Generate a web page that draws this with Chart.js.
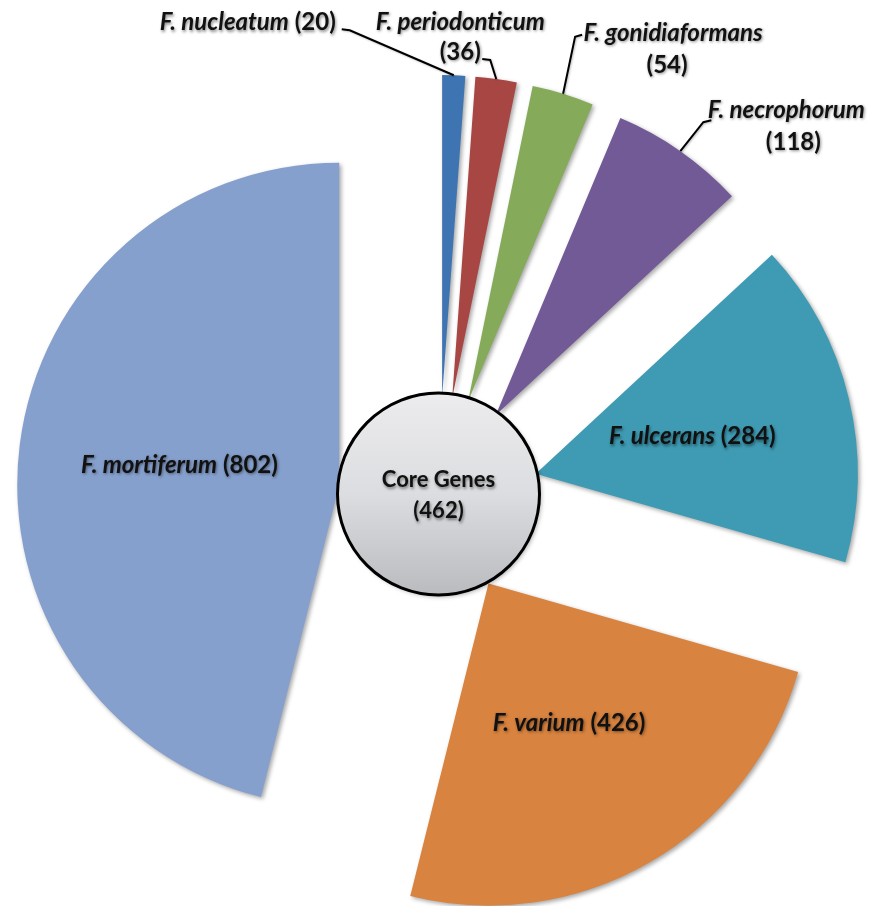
<!DOCTYPE html>
<html>
<head>
<meta charset="utf-8">
<script src="https://cdn.jsdelivr.net/npm/chart.js@4.4.1/dist/chart.umd.min.js"></script>
<style>
  html, body { margin: 0; padding: 0; background: #fff; }
</style>
</head>
<body>
<canvas id="pie" width="877" height="906"></canvas>
<script>
// data
const species = ['F. nucleatum', 'F. periodonticum', 'F. gonidiaformans', 'F. necrophorum', 'F. ulcerans', 'F. varium', 'F. mortiferum'];
const geneCounts = [20, 36, 54, 118, 284, 426, 802];
const coreName = 'Core Genes';
const coreGenes = 462;

const sliceColors = ['#3f74b2', '#a84644', '#84aa5a', '#725a96', '#3e9bb3', '#d8833f', '#86a0cd'];

const pieRadius = 322;
const explode = 100;      // every slice pulled out by the same amount
const coreRadius = 101;
const FONT = 'Lato, "Open Sans", sans-serif';

// outside labels: text/leader positions relative to the outer mid point of the slice
// lines: [dx, dy, align, what], leader: [elbow, end]
const outsideLabels = {
  0: { lines: [[-118, -53, 'right', 'both']], leader: [[-104, -45], [-112, -46]] },
  1: { lines: [[-36, -57, 'center', 'name'], [-36, -27, 'center', 'num']], leader: [[-6, -19], [-14, -20]] },
  2: { lines: [[110, -61, 'center', 'name'], [104, -29, 'center', 'num']], leader: [[12, -57], [19, -59]] },
  3: { lines: [[106, -41, 'center', 'name'], [113, -9, 'center', 'num']], leader: [[23, -29], [31, -31]] }
};

function fontFor(italic, size) {
  return (italic ? 'italic ' : '') + 'bold ' + (size || 24) + 'px ' + FONT;
}

function drawParts(ctx, parts, x, y, align, size) {
  let w = 0;
  parts.forEach(p => { ctx.font = fontFor(p[1], size); w += ctx.measureText(p[0]).width; });
  let cx = align === 'right' ? x - w : align === 'center' ? x - w / 2 : x;
  parts.forEach(p => {
    ctx.font = fontFor(p[1], size);
    ctx.fillText(p[0], cx, y);
    cx += ctx.measureText(p[0]).width;
  });
}

function textShadow(ctx) {
  ctx.shadowColor = 'rgba(0,0,0,0.45)';
  ctx.shadowBlur = 3;
  ctx.shadowOffsetX = 1;
  ctx.shadowOffsetY = 1.5;
}

// pull every arc out along its bisector (exploded pie)
const explodeSlices = {
  id: 'explodeSlices',
  afterDatasetsUpdate(chart) {
    chart.getDatasetMeta(0).data.forEach(arc => {
      const mid = (arc.startAngle + arc.endAngle) / 2;
      arc.x += Math.cos(mid) * explode;
      arc.y += Math.sin(mid) * explode;
    });
  }
};

const sliceShadow = {
  id: 'sliceShadow',
  beforeDatasetsDraw(chart) {
    const ctx = chart.ctx;
    ctx.save();
    ctx.shadowColor = 'rgba(0,0,0,0.35)';
    ctx.shadowBlur = 4;
    ctx.shadowOffsetX = 2;
    ctx.shadowOffsetY = 2;
  },
  afterDatasetsDraw(chart) {
    chart.ctx.restore();
  }
};

const coreAndLabels = {
  id: 'coreAndLabels',
  afterDatasetsDraw(chart) {
    const ctx = chart.ctx;
    const area = chart.chartArea;
    const arcs = chart.getDatasetMeta(0).data;
    const cx = (area.left + area.right) / 2, cy = (area.top + area.bottom) / 2;

    // core genes circle
    ctx.save();
    const oy = cy - 3;
    const g = ctx.createLinearGradient(0, oy - coreRadius, 0, oy + coreRadius);
    g.addColorStop(0, '#ececee');
    g.addColorStop(0.5, '#dcdde0');
    g.addColorStop(1, '#b9bbbf');
    ctx.beginPath();
    ctx.arc(cx, oy, coreRadius, 0, Math.PI * 2);
    ctx.fillStyle = g;
    ctx.shadowColor = 'rgba(0,0,0,0.3)';
    ctx.shadowBlur = 4;
    ctx.shadowOffsetX = 2;
    ctx.shadowOffsetY = 2;
    ctx.fill();
    ctx.shadowColor = 'transparent';
    ctx.lineWidth = 3;
    ctx.strokeStyle = '#000';
    ctx.stroke();
    ctx.fillStyle = '#111';
    ctx.textBaseline = 'middle';
    textShadow(ctx);
    drawParts(ctx, [[coreName, false]], cx, oy - 14, 'center', 22);
    drawParts(ctx, [['(' + coreGenes + ')', false]], cx, oy + 17, 'center', 22);
    ctx.restore();

    // slice labels
    ctx.save();
    ctx.textBaseline = 'middle';
    arcs.forEach((arc, i) => {
      const mid = (arc.startAngle + arc.endAngle) / 2;
      const ux = Math.cos(mid), uy = Math.sin(mid);
      const ax = arc.x, ay = arc.y;   // apex of exploded slice
      const name = species[i], num = '(' + geneCounts[i] + ')';
      const lab = outsideLabels[i];
      if (!lab) {
        ctx.fillStyle = '#111';
        textShadow(ctx);
        drawParts(ctx, [[name, true], [' ' + num, false]], ax + ux * pieRadius * 0.5, ay + uy * pieRadius * 0.5, 'center');
        return;
      }
      const px = ax + ux * arc.outerRadius, py = ay + uy * arc.outerRadius;
      ctx.shadowColor = 'rgba(0,0,0,0.25)';
      ctx.shadowBlur = 2;
      ctx.shadowOffsetX = 1;
      ctx.shadowOffsetY = 1;
      ctx.beginPath();
      ctx.moveTo(px, py);
      ctx.lineTo(px + lab.leader[0][0], py + lab.leader[0][1]);
      ctx.lineTo(px + lab.leader[1][0], py + lab.leader[1][1]);
      ctx.strokeStyle = '#000';
      ctx.lineWidth = 2;
      ctx.stroke();
      ctx.fillStyle = '#111';
      textShadow(ctx);
      lab.lines.forEach(l => {
        const parts = l[3] === 'both' ? [[name, true], [' ' + num, false]]
          : l[3] === 'name' ? [[name, true]] : [[num, false]];
        drawParts(ctx, parts, px + l[0], py + l[1], l[2]);
      });
    });
    ctx.restore();
  }
};

new Chart(document.getElementById('pie'), {
  type: 'pie',
  data: {
    labels: species,
    datasets: [{
      data: geneCounts,
      backgroundColor: sliceColors,
      borderWidth: 0,
      clip: false
    }]
  },
  options: {
    responsive: false,
    animation: false,
    events: [],
    radius: pieRadius,
    layout: { padding: { top: 88, bottom: 0 } },
    plugins: {
      legend: { display: false },
      tooltip: { enabled: false }
    }
  },
  plugins: [explodeSlices, sliceShadow, coreAndLabels]
});
</script>
</body>
</html>
